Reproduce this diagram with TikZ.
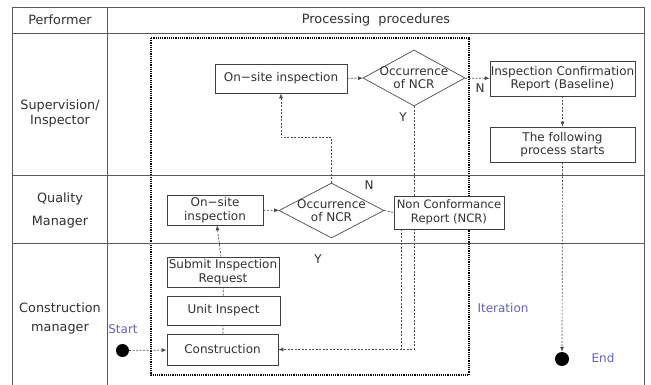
\documentclass[tikz,border=0pt]{standalone}
\usepackage{fontspec}
\setmainfont{DejaVu Sans}
\usetikzlibrary{shapes.geometric,arrows.meta}
\pgfdeclarelayer{bg}
\pgfdeclarelayer{paper}
\pgfsetlayers{paper,bg,main}
\definecolor{txt}{RGB}{50,50,50}
\definecolor{lbl}{RGB}{100,100,180}
\definecolor{ln}{RGB}{90,90,90}
\begin{document}
\begin{tikzpicture}[x=1pt,y=-1pt,
  grid/.style={draw=ln, line width=0.8pt},
  box/.style={rectangle, draw=black!75, fill=white, line width=0.7pt, inner sep=0pt, align=center,
    font=\fontsize{12}{13.5}\selectfont, text=txt},
  dia/.style={diamond, draw=black!70, fill=white, line width=0.7pt, inner sep=0pt},
  dtxt/.style={align=center, font=\fontsize{12}{13}\selectfont, text=txt, inner sep=0pt},
  head/.style={font=\fontsize{12.8}{15}\selectfont, text=txt, align=center},
  yn/.style={font=\fontsize{12}{14}\selectfont, text=txt, inner sep=0pt},
  blu/.style={font=\fontsize{12}{14}\selectfont, text=lbl, inner sep=0pt},
  flow/.style={draw=black!70, dash pattern=on 2pt off 1.5pt, line width=0.7pt},
  arr/.style={flow, -{Latex[length=5pt,width=4pt]}},
  dot/.style={circle, fill=black, inner sep=0pt},
  frame/.style={draw=black, line width=1.6pt, dash pattern=on 1.2pt off 1pt}
]
\useasboundingbox (0,0) rectangle (651,385);
\begin{pgfonlayer}{paper}
  \fill[white] (0,0) rectangle (651,385);
\end{pgfonlayer}

% table
\draw[grid] (12.7,385) -- (12.7,7.5) -- (644,7.5) -- (644,385);
\draw[grid] (12.7,33) -- (644,33);
\draw[grid] (107,7.5) -- (107,385);
\draw[grid] (12.7,175) -- (644,175);
\draw[grid] (12.7,243) -- (644,243);

% headers
\node[head] (hperf) at (60,20) {Performer};
\node[head] (hproc) at (376,20) {Processing\ \ procedures};
\node[head] (r1a) at (60,106) {Supervision/};
\node[head] (r1b) at (60,121) {Inspector};
\node[head] (r2a) at (60,199) {Quality};
\node[head] (r2b) at (60,222) {Manager};
\node[head] (r3a) at (60,308) {Construction};
\node[head] (r3b) at (60,329) {manager};

% nodes
\node[box, minimum width=132pt, minimum height=29pt] (os1) at (281,78.5) {On−site inspection};
\node[dia, minimum width=102pt, minimum height=56pt] (d1) at (414,78) {};
\node[dtxt] (d1t) at (414,78) {Occurrence\\of NCR};
\node[box, minimum width=145pt, minimum height=35pt] (icr) at (562.5,78.5) {Inspection Confirmation\\Report (Baseline)};
\node[box, minimum width=145pt, minimum height=35pt] (fol) at (562.5,144.5) {The following\\process starts};
\node[box, minimum width=96pt, minimum height=30pt] (os2) at (215,210) {On−site\\inspection};
\node[dia, minimum width=105pt, minimum height=55pt] (d2) at (331.5,210.5) {};
\node[dtxt] (d2t) at (331.5,210.5) {Occurrence\\of NCR};
\node[box, minimum width=110pt, minimum height=33pt, font=\fontsize{11.6}{13.5}\selectfont] (ncr) at (449,212.5) {Non Conformance\\Report (NCR)};
\node[box, minimum width=112pt, minimum height=30pt] (sub) at (223,272) {Submit Inspection\\Request};
\node[box, minimum width=113pt, minimum height=29pt] (uni) at (223.5,310.5) {Unit Inspect};
\node[box, minimum width=111pt, minimum height=31pt] (con) at (222.5,349.5) {Construction};
\node[dot, minimum size=13pt] (start) at (122.5,350.5) {};
\node[dot, minimum size=14pt] (end) at (562,359) {};

% labels
\node[blu] (lstart) at (123,329) {Start};
\node[blu] (liter) at (503,308) {Iteration};
\node[blu] (lend) at (603,358) {End};
\node[yn] (n1) at (480,88) {N};
\node[yn] (y1) at (403,117) {Y};
\node[yn] (n2) at (369,185) {N};
\node[yn] (y2) at (318,259) {Y};

\begin{pgfonlayer}{bg}
  \draw[frame] (150.7,38) rectangle (469,375);
  \draw[arr] (start) -- (con);
  \draw[flow] (con) -- (uni);
  \draw[flow] (uni) -- (sub);
  \draw[arr] (sub) -- (os2);
  \draw[arr] (os2) -- (d2);
  \draw[arr] (d2.north) -- ++(0,-45) -| (os1.south);
  \draw[flow] (d2.east) -- (ncr.west);
  \draw[arr] (os1) -- (d1);
  \draw[arr] (d1) -- (icr);
  \draw[arr] (d1.south) -- (d1.south |- con.east) -- (con.east);
  \coordinate (nb) at ([xshift=-48pt]ncr.south);
  \draw[flow] (nb) -- (nb |- con.east);
  \draw[arr] (icr) -- (fol);
  \draw[arr] (fol) -- (end);
\end{pgfonlayer}
\end{tikzpicture}
\end{document}
